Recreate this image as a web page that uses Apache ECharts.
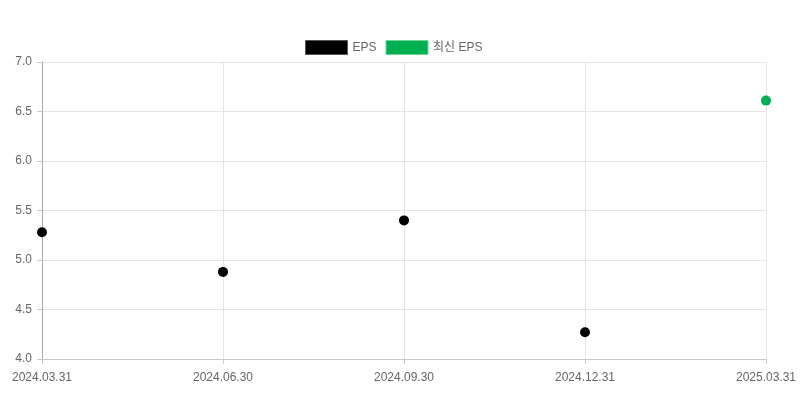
<!DOCTYPE html>
<html lang="ko">
<head>
<meta charset="UTF-8" />
<script src="https://cdn.jsdelivr.net/npm/echarts@6/dist/echarts.min.js"></script>
<style>
  html, body { margin: 0; padding: 0; background: #fff; }
  #main { width: 800px; height: 400px; }
</style>
</head>
<body>
<div id="main"></div>
<script>
// 분기 결산일
var dates = ['2024.03.31', '2024.06.30', '2024.09.30', '2024.12.31', '2025.03.31'];
// EPS (확정)
var epsValues = [5.28, 4.88, 5.40, 4.27, null];
// 최신 EPS
var latestEps = [null, null, null, null, 6.61];
// y축 범위
var yMin = 4.0, yMax = 7.0, yStep = 0.5;

var font = '"Liberation Sans", "Noto Sans CJK KR", Arial, sans-serif';
var chart = echarts.init(document.getElementById('main'));

chart.setOption({
  animation: false,
  textStyle: { fontFamily: font },
  legend: {
    top: 35,
    left: 300,
    itemWidth: 42,
    itemHeight: 14,
    itemGap: 9,
    icon: 'rect',
    textStyle: { color: '#666', fontSize: 12, fontFamily: font },
    data: [
      { name: 'EPS', itemStyle: { color: '#000', opacity: 1, borderColor: '#555', borderWidth: 1 } },
      { name: '최신 EPS', itemStyle: { color: '#00b050', opacity: 1, borderColor: '#6fd49a', borderWidth: 1 } }
    ]
  },
  grid: { left: 42, right: 34, top: 62, bottom: 41 },
  xAxis: {
    type: 'category',
    data: dates,
    boundaryGap: false,
    axisLine: { lineStyle: { color: '#c8c8c8' } },
    axisTick: { show: true, length: 5, lineStyle: { color: '#c8c8c8' } },
    axisLabel: { color: '#666', fontSize: 12, margin: 13, fontFamily: font },
    splitLine: { show: true, lineStyle: { color: '#e5e5e5' } }
  },
  yAxis: {
    type: 'value',
    min: yMin,
    max: yMax,
    interval: yStep,
    axisLine: { show: true, lineStyle: { color: '#aaa' } },
    axisTick: { show: true, length: 5, lineStyle: { color: '#c8c8c8' } },
    axisLabel: {
      color: '#666', fontSize: 12, margin: 10, fontFamily: font,
      formatter: function (v) { return v.toFixed(1); }
    },
    splitLine: { lineStyle: { color: '#e5e5e5' } }
  },
  series: [
    {
      name: 'EPS',
      type: 'scatter',
      symbolSize: 10,
      itemStyle: { color: '#000', opacity: 1 },
      data: epsValues
    },
    {
      name: '최신 EPS',
      type: 'scatter',
      symbolSize: 10,
      itemStyle: { color: '#00b050', opacity: 1 },
      data: latestEps
    }
  ]
});
</script>
</body>
</html>
